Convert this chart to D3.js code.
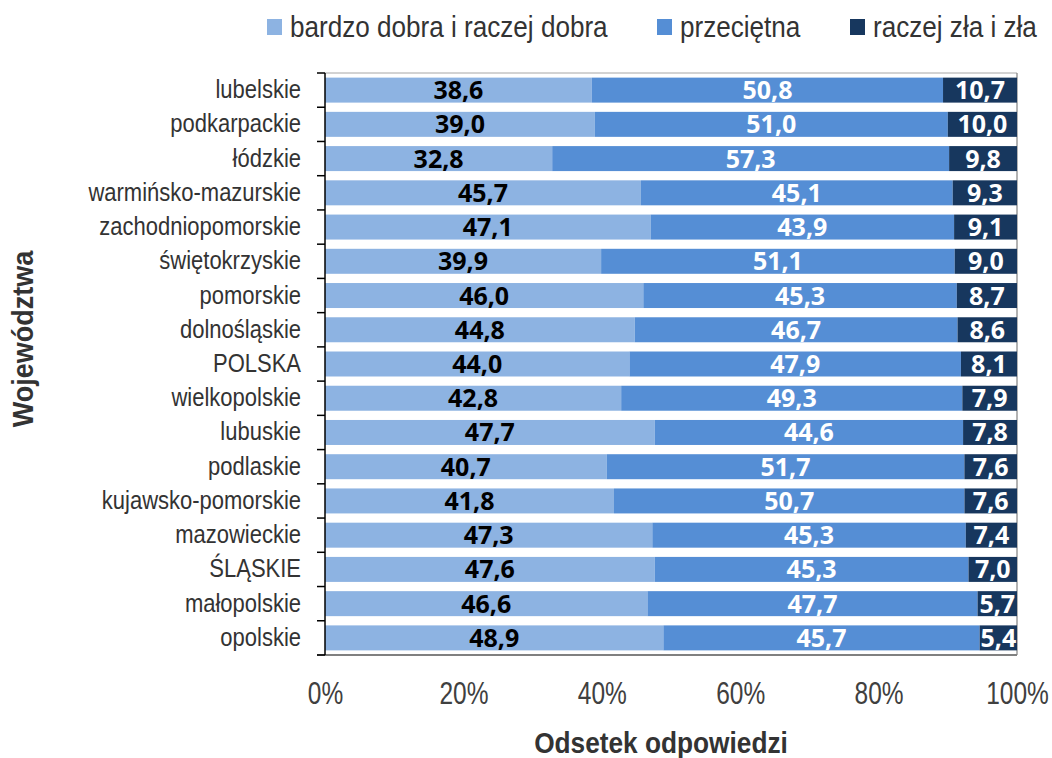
<!DOCTYPE html>
<html>
<head>
<meta charset="utf-8">
<script src="https://cdn.jsdelivr.net/npm/d3@7"></script>
<style>
  html, body { margin: 0; padding: 0; background: #fff; }
  svg { display: block; }
</style>
</head>
<body>
<svg id="chart" width="1052" height="758"></svg>
<script>
const categories = ["lubelskie","podkarpackie","łódzkie","warmińsko-mazurskie","zachodniopomorskie","świętokrzyskie","pomorskie","dolnośląskie","POLSKA","wielkopolskie","lubuskie","podlaskie","kujawsko-pomorskie","mazowieckie","ŚLĄSKIE","małopolskie","opolskie"];
const seriesNames = ["bardzo dobra i raczej dobra","przeciętna","raczej zła i zła"];
const good = [38.6,39.0,32.8,45.7,47.1,39.9,46.0,44.8,44.0,42.8,47.7,40.7,41.8,47.3,47.6,46.6,48.9];
const average = [50.8,51.0,57.3,45.1,43.9,51.1,45.3,46.7,47.9,49.3,44.6,51.7,50.7,45.3,45.3,47.7,45.7];
const bad = [10.7,10.0,9.8,9.3,9.1,9.0,8.7,8.6,8.1,7.9,7.8,7.6,7.6,7.4,7.0,5.7,5.4];
const xTicks = [0,0.2,0.4,0.6,0.8,1.0];
const colors = ["#8DB3E2","#558ED5","#17375E"];
const labelColors = ["#000000","#ffffff","#ffffff"];

const NARROW = "'Liberation Sans', Arial, sans-serif";
// horizontally condense a text around its anchor point (Arial Narrow look)
function condense(sel, f) {
  sel.each(function() {
    const t = d3.select(this);
    const x0 = +(t.attr("x") || 0);
    const pre = t.attr("transform") || "";
    t.attr("transform", `${pre} translate(${x0},0) scale(${f},1) translate(${-x0},0)`);
  });
}

const rows = categories.map((c,i)=>({cat:c, s0:good[i], s1:average[i], s2:bad[i]}));
const keys = ["s0","s1","s2"];
const stacked = d3.stack().keys(keys).offset(d3.stackOffsetExpand)(rows);

const svg = d3.select("#chart");
const m = {left:325, right:1017, top:73, bottom:655};

const x = d3.scaleLinear().domain([0,1]).range([m.left, m.right]);
const y = d3.scaleBand().domain(categories).range([m.top, m.bottom]).paddingInner(0.27).paddingOuter(0.135);

// plot frame (top & right)
svg.append("line").attr("x1",m.left).attr("x2",m.right).attr("y1",m.top).attr("y2",m.top)
  .attr("stroke","#a6a6a6").attr("stroke-width",1);
svg.append("line").attr("x1",m.right).attr("x2",m.right).attr("y1",m.top).attr("y2",m.bottom)
  .attr("stroke","#808080").attr("stroke-width",1.2);

// bars
const g = svg.append("g");
stacked.forEach((layer, li) => {
  g.selectAll(null).data(layer).enter().append("rect")
    .attr("x", d => x(d[0]))
    .attr("width", d => x(d[1]) - x(d[0]))
    .attr("y", d => y(d.data.cat))
    .attr("height", y.bandwidth())
    .attr("fill", colors[li]);
});

// data labels
stacked.forEach((layer, li) => {
  g.selectAll(null).data(layer).enter().append("text")
    .attr("x", d => (x(d[0]) + x(d[1]))/2)
    .attr("y", d => y(d.data.cat) + y.bandwidth()/2)
    .attr("dy","0.36em")
    .attr("text-anchor","middle")
    .attr("font-family","'Open Sans', sans-serif")
    .attr("font-weight",700)
    .attr("font-size","25px")
    .attr("fill", labelColors[li])
    .text(d => d.data[layer.key].toFixed(1).replace(".", ","));
});

// x axis (bottom line, labels)
svg.append("line").attr("x1",m.left-8).attr("x2",m.right).attr("y1",m.bottom).attr("y2",m.bottom)
  .attr("stroke","#808080").attr("stroke-width",2);
const xAxis = d3.axisBottom(x).tickValues(xTicks).tickSize(0).tickPadding(0)
  .tickFormat(d => Math.round(d*100) + "%");
const xg = svg.append("g").attr("transform",`translate(0,${m.bottom})`).call(xAxis);
xg.select(".domain").remove();
xg.selectAll("text")
  .attr("y", 49).attr("dy", 0)
  .attr("font-family",NARROW)
  .attr("font-size","31px").attr("fill","#404040")
  .call(condense, 0.79);

// y axis
const yAxis = d3.axisLeft(y).tickSize(0).tickPadding(24);
const yg = svg.append("g").attr("transform",`translate(${m.left},0)`).call(yAxis);
yg.select(".domain").remove();
yg.selectAll("text")
  .attr("font-family",NARROW)
  .attr("font-size","25px").attr("fill","#333333")
  .call(condense, 0.88);
// tick marks at category boundaries
const bounds = d3.range(categories.length+1).map(i => m.top + i*(m.bottom-m.top)/categories.length);
svg.selectAll(null).data(bounds).enter().append("line")
  .attr("x1", m.left-8).attr("x2", m.left).attr("y1", d=>d).attr("y2", d=>d)
  .attr("stroke","#000").attr("stroke-width",1.5);
svg.append("line").attr("x1",m.left).attr("x2",m.left).attr("y1",m.top).attr("y2",m.bottom)
  .attr("stroke","#000").attr("stroke-width",1.5);

// axis titles
svg.append("text").attr("x", 661).attr("y", 753).attr("text-anchor","middle")
  .attr("font-family",NARROW)
  .attr("font-weight",700).attr("font-size","30px").attr("fill","#333333")
  .text("Odsetek odpowiedzi")
  .call(condense, 0.875);
svg.append("text").attr("transform","translate(33,339) rotate(-90) scale(0.9,1)").attr("text-anchor","middle")
  .attr("font-family",NARROW)
  .attr("font-weight",700).attr("font-size","30px").attr("fill","#333333")
  .text("Województwa");

// legend
const legendX = [267, 657, 850];
const lg = svg.append("g");
seriesNames.forEach((n,i) => {
  lg.append("rect").attr("x", legendX[i]).attr("y", 19).attr("width",15).attr("height",16).attr("fill",colors[i]);
  lg.append("text").attr("x", legendX[i]+23).attr("y", 37)
    .attr("font-family",NARROW)
    .attr("font-size","30px").attr("fill","#333333").text(n)
    .call(condense, 0.87);
});
</script>
</body>
</html>
